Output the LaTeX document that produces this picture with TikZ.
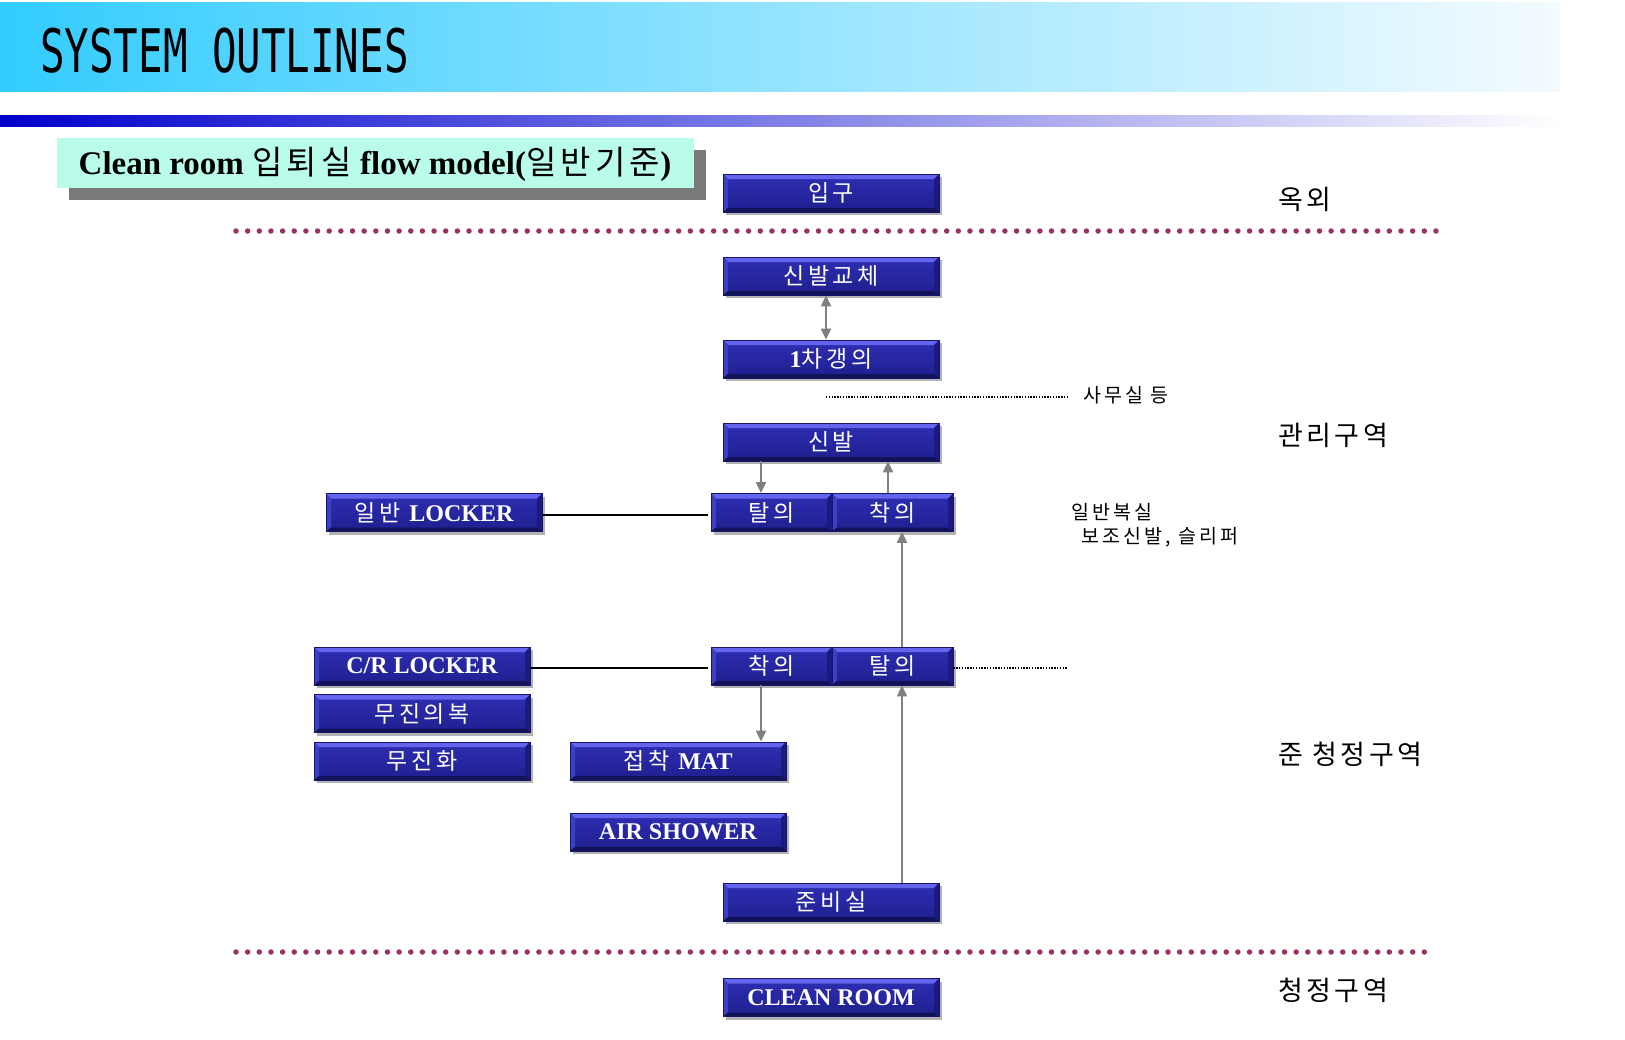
\documentclass[tikz,border=0pt]{standalone}
\usepackage{fontspec}
\usepackage{graphicx}
\setmainfont{Liberation Serif}
\newfontfamily\kr[LetterSpace=16]{Noto Sans CJK KR}
\newfontfamily\krz[LetterSpace=13]{Noto Sans CJK KR}
\newfontfamily\hdr{DejaVu Sans Mono}
\usetikzlibrary{arrows.meta,shadows}
\definecolor{hdrL}{HTML}{33CCFF}
\definecolor{hdrR}{HTML}{F4FBFF}
\definecolor{barL}{HTML}{0000CC}
\definecolor{barM}{HTML}{8A86D8}
\definecolor{mint}{HTML}{B9FCE9}
\definecolor{bxTop}{HTML}{2E2EB4}
\definecolor{bxBot}{HTML}{1F1F8E}
\definecolor{bvTop}{HTML}{6464EC}
\definecolor{bvLeft}{HTML}{3E3EC4}
\definecolor{bvRight}{HTML}{1A1A80}
\definecolor{bvBot}{HTML}{121258}
\definecolor{bxEdge}{HTML}{16166A}
\definecolor{dotc}{HTML}{993366}
\definecolor{arrg}{HTML}{808080}
\newcommand\lat[1]{{\rmfamily\bfseries\fontsize{24}{24}\selectfont #1}}
\tikzset{
  fbox/.style={minimum height=38pt, inner sep=0pt, text=white,
    top color=bxTop, bottom color=bxBot, draw=bxEdge, line width=0.8pt,
    font=\kr\fontsize{23}{23}\selectfont,
    drop shadow={shadow xshift=3pt, shadow yshift=-3pt, opacity=0.3, fill=black},
    path picture={
      \fill[bvTop] (path picture bounding box.north west) -- (path picture bounding box.north east)
        -- ([xshift=-5pt,yshift=-5pt]path picture bounding box.north east)
        -- ([xshift=5pt,yshift=-5pt]path picture bounding box.north west) -- cycle;
      \fill[bvLeft] (path picture bounding box.north west) -- ([xshift=5pt,yshift=-5pt]path picture bounding box.north west)
        -- ([xshift=5pt,yshift=4pt]path picture bounding box.south west) -- (path picture bounding box.south west) -- cycle;
      \fill[bvRight] (path picture bounding box.north east) -- ([xshift=-5pt,yshift=-5pt]path picture bounding box.north east)
        -- ([xshift=-5pt,yshift=4pt]path picture bounding box.south east) -- (path picture bounding box.south east) -- cycle;
      \fill[bvBot] (path picture bounding box.south west) -- (path picture bounding box.south east)
        -- ([xshift=-5pt,yshift=4pt]path picture bounding box.south east)
        -- ([xshift=5pt,yshift=4pt]path picture bounding box.south west) -- cycle;
    }},
  widebox/.style={fbox, minimum width=216pt},
  halfbox/.style={fbox, minimum width=121pt},
  garrow/.style={draw=arrg, line width=2pt, -{Triangle[length=11pt,width=10pt]}},
  bline/.style={draw=black, line width=2pt},
  sepdots/.style={draw=dotc, line width=5.5pt, line cap=round, dash pattern=on 0pt off 11.65pt},
  thindots/.style={draw=black, line width=1.2pt, dash pattern=on 1.4pt off 1.4pt},
  zone/.style={anchor=west, inner sep=0pt, font=\krz\fontsize{27}{27}\selectfont},
  note/.style={anchor=west, inner sep=0pt, font=\kr\fontsize{19.5}{19.5}\selectfont}
}
\begin{document}
\begin{tikzpicture}[x=1pt,y=-1pt]
\useasboundingbox (0,0) rectangle (1625,1039);
% header
\fill[left color=hdrL, right color=hdrR] (0,2) rectangle (1560,91);
\node[anchor=west, inner sep=0pt, font=\hdr\fontsize{60}{60}\selectfont] (n_hdr) at (40,51) {\scalebox{0.68}[1]{SYSTEM OUTLINES}};
\shade[left color=barL, middle color=barM, right color=white] (0,115) rectangle (1560,126);
% title
\fill[gray!95!black] (69,150) rectangle (706,200);
\fill[mint] (57,138) rectangle (694,188);
\node[inner sep=0pt, font=\bfseries\fontsize{33}{33}\selectfont] (n_title) at (375,164) {Clean room {\krz\mdseries 입퇴실} flow model({\krz\mdseries 일반기준})};
% separators
\coordinate (s1a) at (236,231); \coordinate (s1b) at (1440,231);
\coordinate (s2a) at (236,952); \coordinate (s2b) at (1430,952);
\draw[sepdots] (s1a) -- (s1b);
\draw[sepdots] (s2a) -- (s2b);
% boxes
\node[widebox] (n_ipgu) at (831,193) {입구};
\node[widebox] (n_shoechg) at (831,276) {신발교체};
\node[widebox] (n_gown1) at (831,359) {\lat{1}차갱의};
\node[widebox] (n_shoe) at (831,442) {신발};
\node[halfbox] (n_tal1) at (771.5,512.5) {탈의};
\node[halfbox] (n_chak1) at (892.5,512.5) {착의};
\node[widebox] (n_locker1) at (434,512.5) {일반 \lat{LOCKER}};
\node[widebox] (n_crlocker) at (422,666) {\lat{C/R LOCKER}};
\node[widebox] (n_dustwear) at (422,713.5) {무진의복};
\node[widebox] (n_dustshoe) at (422,761) {무진화};
\node[halfbox] (n_chak2) at (771.5,666) {착의};
\node[halfbox] (n_tal2) at (892.5,666) {탈의};
\node[widebox] (n_mat) at (678,761) {접착 \lat{MAT}};
\node[widebox] (n_air) at (678,832) {\lat{AIR SHOWER}};
\node[widebox] (n_prep) at (831,902) {준비실};
\node[widebox] (n_clean) at (831,997.5) {\lat{CLEAN ROOM}};
% connectors
\draw[garrow, {Triangle[length=11pt,width=10pt]}-{Triangle[length=11pt,width=10pt]}] ([xshift=-5pt]n_shoechg.south) -- ([xshift=-5pt]n_gown1.north);
\draw[garrow] ([xshift=-70pt]n_shoe.south) -- ([xshift=-10.5pt]n_tal1.north);
\draw[garrow] ([xshift=-4.5pt]n_chak1.north) -- ([xshift=57pt]n_shoe.south);
\draw[garrow] ([xshift=9.5pt]n_tal2.north) -- ([xshift=9.5pt]n_chak1.south);
\draw[garrow] ([xshift=71pt]n_prep.north) -- ([xshift=9.5pt]n_tal2.south);
\draw[garrow] ([xshift=-10.5pt]n_chak2.south) -- ([xshift=83pt]n_mat.north);
\draw[bline] ([yshift=-2pt]n_locker1.east) -- ([xshift=-3pt,yshift=-2pt]n_tal1.west);
\draw[bline] ([yshift=-2pt]n_crlocker.east) -- ([xshift=-3pt,yshift=-2pt]n_chak2.west);
\coordinate (d1a) at (826,397); \coordinate (d1b) at (1067,397);
\draw[thindots] (d1a) -- (d1b);
\coordinate (d2b) at (1067,668);
\draw[thindots] ([yshift=-2pt]n_tal2.east) -- (d2b);
% notes
\node[note] (n_office) at (1083,395) {사무실 등};
\node[note] (n_gen1) at (1071,512) {일반복실};
\node[note] (n_gen2) at (1081,537) {보조신발, 슬리퍼};
% zones
\node[zone] (z1) at (1278,199) {옥외};
\node[zone] (z2) at (1278,435) {관리구역};
\node[zone] (z3) at (1278,754) {준 청정구역};
\node[zone] (z4) at (1278,990) {청정구역};
\end{tikzpicture}
\end{document}
